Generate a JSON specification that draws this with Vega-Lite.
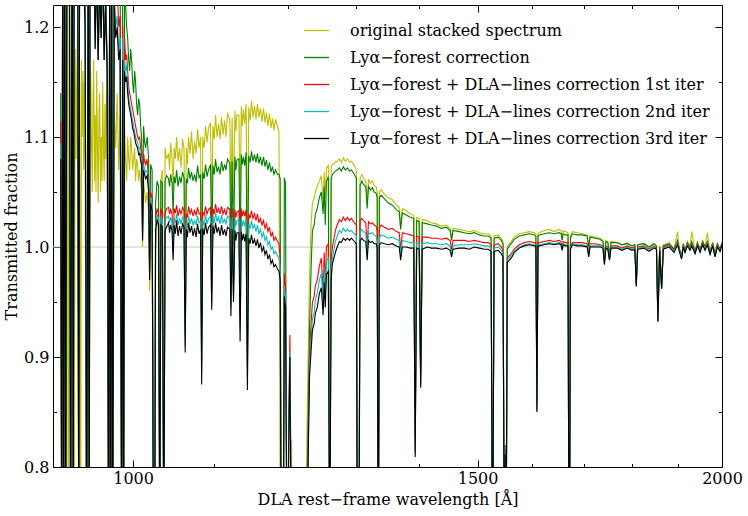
{
  "$schema": "https://vega.github.io/schema/vega-lite/v6.json",
  "width": 669,
  "height": 462,
  "autosize": {"type": "none"},
  "padding": {"left": 53, "top": 5, "right": 26, "bottom": 49},
  "data": {
    "values": [
      {"w":918.3,"y":1.05,"g":1.14,"r":1.114,"c":1.094,"k":1.08},
      {"w":919.4,"y":0.7,"g":0.7,"r":0.7,"c":0.7,"k":0.7},
      {"w":920.5,"y":1.28,"g":1.35,"r":1.35,"c":1.35,"k":1.35},
      {"w":921.5,"y":0.7,"g":0.7,"r":0.7,"c":0.7,"k":0.7},
      {"w":922.6,"y":1.2,"g":1.32,"r":1.32,"c":1.32,"k":1.32},
      {"w":923.7,"y":0.72,"g":0.72,"r":0.72,"c":0.72,"k":0.72},
      {"w":925.3,"y":1.3,"g":1.4,"r":1.4,"c":1.4,"k":1.4},
      {"w":926.4,"y":0.7,"g":1.35,"r":1.35,"c":1.35,"k":1.35},
      {"w":927.5,"y":1.25,"g":1.38,"r":1.38,"c":1.38,"k":1.38},
      {"w":929.1,"y":0.7,"g":0.7,"r":0.7,"c":0.7,"k":0.7},
      {"w":930.8,"y":1.3,"g":1.4,"r":1.4,"c":1.4,"k":1.4},
      {"w":931.9,"y":0.7,"g":0.7,"r":0.7,"c":0.7,"k":0.7},
      {"w":933.0,"y":0.72,"g":1.3,"r":1.3,"c":1.3,"k":1.3},
      {"w":934.1,"y":1.18,"g":1.35,"r":1.35,"c":1.35,"k":1.35},
      {"w":935.0,"y":1.08,"g":1.3,"r":1.3,"c":1.3,"k":1.3},
      {"w":935.8,"y":1.15,"g":1.28,"r":1.28,"c":1.28,"k":1.28},
      {"w":936.8,"y":1.2,"g":1.3,"r":1.3,"c":1.3,"k":1.3},
      {"w":938.0,"y":0.7,"g":0.7,"r":0.7,"c":0.7,"k":0.7},
      {"w":939.0,"y":1.15,"g":1.32,"r":1.32,"c":1.32,"k":1.32},
      {"w":940.1,"y":0.72,"g":1.3,"r":1.3,"c":1.3,"k":1.3},
      {"w":941.0,"y":1.17,"g":1.27,"r":1.27,"c":1.27,"k":1.27},
      {"w":941.8,"y":1.1,"g":1.25,"r":1.25,"c":1.25,"k":1.25},
      {"w":942.7,"y":1.16,"g":1.29,"r":1.28,"c":1.28,"k":1.28},
      {"w":943.5,"y":1.07,"g":1.28,"r":1.27,"c":1.26,"k":1.25},
      {"w":944.3,"y":1.15,"g":1.24,"r":1.23,"c":1.22,"k":1.22},
      {"w":945.1,"y":1.06,"g":1.22,"r":1.21,"c":1.2,"k":1.2},
      {"w":946.8,"y":0.7,"g":0.7,"r":0.7,"c":0.7,"k":0.7},
      {"w":948.5,"y":1.16,"g":1.3,"r":1.3,"c":1.3,"k":1.3},
      {"w":949.6,"y":0.7,"g":0.7,"r":0.7,"c":0.7,"k":0.7},
      {"w":950.5,"y":1.09,"g":1.25,"r":1.25,"c":1.25,"k":1.25},
      {"w":951.3,"y":1.16,"g":1.28,"r":1.28,"c":1.28,"k":1.28},
      {"w":952.1,"y":1.1,"g":1.26,"r":1.25,"c":1.25,"k":1.25},
      {"w":953.0,"y":1.05,"g":1.23,"r":1.22,"c":1.22,"k":1.22},
      {"w":953.8,"y":1.13,"g":1.27,"r":1.27,"c":1.27,"k":1.27},
      {"w":954.6,"y":1.17,"g":1.3,"r":1.3,"c":1.3,"k":1.3},
      {"w":955.5,"y":1.06,"g":1.24,"r":1.23,"c":1.23,"k":1.23},
      {"w":956.3,"y":1.12,"g":1.2,"r":1.19,"c":1.18,"k":1.18},
      {"w":957.2,"y":1.05,"g":1.23,"r":1.22,"c":1.22,"k":1.22},
      {"w":958.0,"y":1.16,"g":1.27,"r":1.26,"c":1.26,"k":1.26},
      {"w":958.9,"y":1.09,"g":1.22,"r":1.21,"c":1.21,"k":1.21},
      {"w":959.7,"y":1.04,"g":1.18,"r":1.17,"c":1.17,"k":1.17},
      {"w":960.6,"y":1.12,"g":1.22,"r":1.21,"c":1.21,"k":1.21},
      {"w":961.4,"y":1.14,"g":1.25,"r":1.24,"c":1.24,"k":1.24},
      {"w":962.3,"y":1.05,"g":1.22,"r":1.21,"c":1.21,"k":1.21},
      {"w":963.1,"y":1.1,"g":1.2,"r":1.19,"c":1.19,"k":1.19},
      {"w":964.0,"y":1.06,"g":1.24,"r":1.23,"c":1.23,"k":1.23},
      {"w":964.8,"y":1.15,"g":1.29,"r":1.28,"c":1.28,"k":1.28},
      {"w":965.7,"y":1.09,"g":1.22,"r":1.21,"c":1.21,"k":1.21},
      {"w":966.5,"y":1.06,"g":1.18,"r":1.17,"c":1.17,"k":1.17},
      {"w":967.4,"y":1.13,"g":1.21,"r":1.2,"c":1.2,"k":1.2},
      {"w":968.2,"y":1.08,"g":1.23,"r":1.22,"c":1.22,"k":1.22},
      {"w":969.1,"y":1.14,"g":1.2,"r":1.19,"c":1.19,"k":1.19},
      {"w":969.9,"y":1.1,"g":1.17,"r":1.16,"c":1.16,"k":1.16},
      {"w":971.6,"y":0.7,"g":0.7,"r":0.7,"c":0.7,"k":0.7},
      {"w":972.8,"y":1.05,"g":1.3,"r":1.3,"c":1.3,"k":1.3},
      {"w":973.9,"y":0.7,"g":0.7,"r":0.7,"c":0.7,"k":0.7},
      {"w":975.1,"y":1.1,"g":1.28,"r":1.28,"c":1.28,"k":1.28},
      {"w":976.2,"y":0.7,"g":0.7,"r":0.7,"c":0.7,"k":0.7},
      {"w":978.0,"y":1.12,"g":1.3,"r":1.26,"c":1.24,"k":1.22},
      {"w":979.7,"y":1.09,"g":1.26,"r":1.22,"c":1.2,"k":1.19},
      {"w":981.4,"y":1.14,"g":1.3,"r":1.24,"c":1.21,"k":1.2},
      {"w":983.1,"y":1.07,"g":1.23,"r":1.2,"c":1.18,"k":1.17},
      {"w":984.8,"y":1.12,"g":1.28,"r":1.21,"c":1.19,"k":1.18},
      {"w":986.6,"y":0.72,"g":0.72,"r":0.72,"c":0.72,"k":0.72},
      {"w":987.8,"y":1.1,"g":1.25,"r":1.2,"c":1.19,"k":1.17},
      {"w":988.9,"y":0.75,"g":0.75,"r":0.75,"c":0.75,"k":0.75},
      {"w":990.0,"y":1.11,"g":1.24,"r":1.19,"c":1.17,"k":1.16},
      {"w":991.2,"y":1.08,"g":1.22,"r":1.17,"c":1.16,"k":1.15},
      {"w":992.4,"y":1.06,"g":1.2,"r":1.175,"c":1.165,"k":1.155},
      {"w":993.6,"y":1.1,"g":1.19,"r":1.16,"c":1.15,"k":1.14},
      {"w":994.8,"y":1.08,"g":1.17,"r":1.145,"c":1.135,"k":1.13},
      {"w":995.9,"y":1.07,"g":1.16,"r":1.14,"c":1.13,"k":1.125},
      {"w":997.1,"y":1.1,"g":1.18,"r":1.135,"c":1.125,"k":1.12},
      {"w":998.2,"y":1.09,"g":1.17,"r":1.13,"c":1.12,"k":1.115},
      {"w":999.4,"y":1.07,"g":1.15,"r":1.125,"c":1.115,"k":1.108},
      {"w":1000.6,"y":1.08,"g":1.14,"r":1.12,"c":1.11,"k":1.105},
      {"w":1001.8,"y":1.09,"g":1.16,"r":1.115,"c":1.105,"k":1.1},
      {"w":1002.9,"y":1.06,"g":1.15,"r":1.11,"c":1.1,"k":1.095},
      {"w":1004.1,"y":1.08,"g":1.13,"r":1.105,"c":1.097,"k":1.092},
      {"w":1005.3,"y":1.075,"g":1.12,"r":1.1,"c":1.095,"k":1.09},
      {"w":1006.5,"y":1.06,"g":1.135,"r":1.098,"c":1.09,"k":1.084},
      {"w":1007.7,"y":1.07,"g":1.13,"r":1.1,"c":1.09,"k":1.085},
      {"w":1008.9,"y":1.06,"g":1.11,"r":1.09,"c":1.083,"k":1.078},
      {"w":1010.0,"y":1.05,"g":1.1,"r":1.085,"c":1.08,"k":1.075},
      {"w":1011.2,"y":1.0,"g":1.04,"r":1.02,"c":1.01,"k":1.006},
      {"w":1012.4,"y":1.06,"g":1.11,"r":1.085,"c":1.075,"k":1.07},
      {"w":1013.6,"y":1.05,"g":1.095,"r":1.078,"c":1.071,"k":1.066},
      {"w":1014.8,"y":1.04,"g":1.09,"r":1.075,"c":1.068,"k":1.062},
      {"w":1016.6,"y":1.05,"g":1.1,"r":1.08,"c":1.07,"k":1.065},
      {"w":1018.4,"y":1.03,"g":1.08,"r":1.06,"c":1.055,"k":1.05},
      {"w":1019.6,"y":0.96,"g":0.99,"r":0.98,"c":0.975,"k":0.97},
      {"w":1020.8,"y":1.02,"g":1.075,"r":1.05,"c":1.045,"k":1.04},
      {"w":1022.6,"y":1.03,"g":1.07,"r":1.045,"c":1.038,"k":1.033},
      {"w":1024.4,"y":0.7,"g":0.7,"r":0.7,"c":0.7,"k":0.7},
      {"w":1025.7,"y":0.7,"g":0.7,"r":0.7,"c":0.7,"k":0.7},
      {"w":1026.8,"y":1.0,"g":1.04,"r":1.025,"c":1.02,"k":1.015},
      {"w":1028.6,"y":1.02,"g":1.06,"r":1.035,"c":1.03,"k":1.025},
      {"w":1030.4,"y":1.03,"g":1.055,"r":1.03,"c":1.025,"k":1.02},
      {"w":1031.9,"y":0.72,"g":0.72,"r":0.72,"c":0.72,"k":0.72},
      {"w":1033.2,"y":1.06,"g":1.06,"r":1.035,"c":1.028,"k":1.02},
      {"w":1035.0,"y":1.07,"g":1.058,"r":1.03,"c":1.025,"k":1.018},
      {"w":1036.8,"y":0.72,"g":0.72,"r":0.72,"c":0.72,"k":0.72},
      {"w":1038.3,"y":1.09,"g":1.06,"r":1.03,"c":1.024,"k":1.015},
      {"w":1040.1,"y":1.08,"g":1.065,"r":1.035,"c":1.027,"k":1.018},
      {"w":1042.6,"y":1.085,"g":1.062,"r":1.036,"c":1.028,"k":1.022},
      {"w":1043.8,"y":1.07,"g":1.055,"r":1.03,"c":1.022,"k":1.013},
      {"w":1045.1,"y":1.095,"g":1.066,"r":1.034,"c":1.027,"k":1.02},
      {"w":1046.9,"y":1.08,"g":1.058,"r":1.03,"c":1.022,"k":1.015},
      {"w":1048.2,"y":1.05,"g":1.03,"r":1.0,"c":0.993,"k":0.988},
      {"w":1049.5,"y":1.09,"g":1.064,"r":1.035,"c":1.026,"k":1.02},
      {"w":1051.0,"y":1.08,"g":1.058,"r":1.031,"c":1.022,"k":1.012},
      {"w":1052.5,"y":1.1,"g":1.07,"r":1.038,"c":1.03,"k":1.024},
      {"w":1054.3,"y":1.078,"g":1.055,"r":1.028,"c":1.02,"k":1.01},
      {"w":1056.2,"y":1.09,"g":1.064,"r":1.034,"c":1.026,"k":1.019},
      {"w":1058.0,"y":1.072,"g":1.058,"r":1.03,"c":1.021,"k":1.012},
      {"w":1059.9,"y":1.098,"g":1.068,"r":1.036,"c":1.027,"k":1.021},
      {"w":1061.7,"y":1.09,"g":1.063,"r":1.033,"c":1.025,"k":1.018},
      {"w":1063.2,"y":0.98,"g":0.95,"r":0.92,"c":0.91,"k":0.904},
      {"w":1064.6,"y":1.09,"g":1.062,"r":1.03,"c":1.022,"k":1.016},
      {"w":1066.0,"y":1.075,"g":1.058,"r":1.027,"c":1.019,"k":1.009},
      {"w":1067.4,"y":1.1,"g":1.072,"r":1.037,"c":1.028,"k":1.022},
      {"w":1069.3,"y":1.085,"g":1.062,"r":1.03,"c":1.021,"k":1.013},
      {"w":1071.2,"y":1.105,"g":1.068,"r":1.034,"c":1.026,"k":1.019},
      {"w":1073.1,"y":1.08,"g":1.06,"r":1.028,"c":1.02,"k":1.01},
      {"w":1075.0,"y":1.096,"g":1.066,"r":1.033,"c":1.024,"k":1.017},
      {"w":1076.9,"y":1.085,"g":1.059,"r":1.029,"c":1.02,"k":1.009},
      {"w":1078.8,"y":1.107,"g":1.074,"r":1.036,"c":1.028,"k":1.021},
      {"w":1080.7,"y":1.09,"g":1.063,"r":1.03,"c":1.022,"k":1.012},
      {"w":1082.6,"y":1.1,"g":1.066,"r":1.031,"c":1.023,"k":1.016},
      {"w":1084.0,"y":0.96,"g":0.93,"r":0.895,"c":0.885,"k":0.875},
      {"w":1085.4,"y":1.1,"g":1.068,"r":1.032,"c":1.024,"k":1.017},
      {"w":1087.2,"y":1.09,"g":1.062,"r":1.029,"c":1.02,"k":1.011},
      {"w":1089.0,"y":1.11,"g":1.075,"r":1.037,"c":1.029,"k":1.022},
      {"w":1090.9,"y":1.095,"g":1.064,"r":1.03,"c":1.021,"k":1.012},
      {"w":1092.8,"y":1.108,"g":1.07,"r":1.034,"c":1.026,"k":1.018},
      {"w":1095.4,"y":1.113,"g":1.075,"r":1.036,"c":1.028,"k":1.02},
      {"w":1096.9,"y":1.03,"g":1.0,"r":0.96,"c":0.95,"k":0.943},
      {"w":1098.6,"y":1.11,"g":1.074,"r":1.035,"c":1.027,"k":1.019},
      {"w":1100.2,"y":1.098,"g":1.066,"r":1.03,"c":1.022,"k":1.012},
      {"w":1101.9,"y":1.12,"g":1.08,"r":1.039,"c":1.031,"k":1.022},
      {"w":1103.8,"y":1.1,"g":1.068,"r":1.031,"c":1.023,"k":1.013},
      {"w":1105.8,"y":1.112,"g":1.073,"r":1.035,"c":1.027,"k":1.018},
      {"w":1107.7,"y":1.098,"g":1.066,"r":1.03,"c":1.021,"k":1.01},
      {"w":1109.7,"y":1.118,"g":1.078,"r":1.037,"c":1.029,"k":1.02},
      {"w":1111.6,"y":1.102,"g":1.069,"r":1.03,"c":1.022,"k":1.011},
      {"w":1113.6,"y":1.115,"g":1.075,"r":1.034,"c":1.025,"k":1.016},
      {"w":1115.5,"y":1.1,"g":1.07,"r":1.029,"c":1.021,"k":1.01},
      {"w":1117.5,"y":1.122,"g":1.08,"r":1.036,"c":1.028,"k":1.018},
      {"w":1120.6,"y":1.115,"g":1.076,"r":1.034,"c":1.026,"k":1.016},
      {"w":1122.0,"y":1.03,"g":0.99,"r":0.955,"c":0.945,"k":0.937},
      {"w":1123.6,"y":1.118,"g":1.078,"r":1.035,"c":1.027,"k":1.016},
      {"w":1125.4,"y":1.04,"g":1.0,"r":0.965,"c":0.957,"k":0.95},
      {"w":1127.3,"y":1.124,"g":1.082,"r":1.034,"c":1.026,"k":1.015},
      {"w":1128.6,"y":1.105,"g":1.07,"r":1.027,"c":1.019,"k":1.006},
      {"w":1129.9,"y":1.12,"g":1.079,"r":1.032,"c":1.024,"k":1.013},
      {"w":1132.6,"y":1.12,"g":1.08,"r":1.033,"c":1.025,"k":1.013},
      {"w":1134.2,"y":1.03,"g":0.995,"r":0.935,"c":0.925,"k":0.914},
      {"w":1135.8,"y":1.128,"g":1.084,"r":1.035,"c":1.026,"k":1.014},
      {"w":1137.2,"y":1.11,"g":1.075,"r":1.028,"c":1.019,"k":1.006},
      {"w":1138.7,"y":1.125,"g":1.082,"r":1.033,"c":1.024,"k":1.012},
      {"w":1140.4,"y":1.112,"g":1.074,"r":1.028,"c":1.019,"k":1.005},
      {"w":1142.2,"y":1.13,"g":1.086,"r":1.034,"c":1.025,"k":1.012},
      {"w":1144.0,"y":1.0,"g":0.96,"r":0.89,"c":0.88,"k":0.87},
      {"w":1145.8,"y":1.127,"g":1.083,"r":1.03,"c":1.021,"k":1.008},
      {"w":1147.6,"y":1.115,"g":1.077,"r":1.026,"c":1.017,"k":1.003},
      {"w":1149.5,"y":1.133,"g":1.087,"r":1.033,"c":1.024,"k":1.011},
      {"w":1151.5,"y":1.118,"g":1.078,"r":1.026,"c":1.017,"k":1.003},
      {"w":1153.6,"y":1.128,"g":1.084,"r":1.03,"c":1.02,"k":1.007},
      {"w":1155.6,"y":1.116,"g":1.077,"r":1.024,"c":1.014,"k":1.001},
      {"w":1157.6,"y":1.13,"g":1.085,"r":1.03,"c":1.02,"k":1.007},
      {"w":1159.6,"y":1.118,"g":1.076,"r":1.022,"c":1.012,"k":0.999},
      {"w":1161.7,"y":1.126,"g":1.082,"r":1.026,"c":1.016,"k":1.004},
      {"w":1163.8,"y":1.114,"g":1.074,"r":1.02,"c":1.009,"k":0.996},
      {"w":1165.9,"y":1.126,"g":1.082,"r":1.024,"c":1.013,"k":1.0},
      {"w":1167.9,"y":1.113,"g":1.073,"r":1.017,"c":1.006,"k":0.993},
      {"w":1169.9,"y":1.122,"g":1.079,"r":1.021,"c":1.009,"k":0.997},
      {"w":1172.0,"y":1.11,"g":1.07,"r":1.014,"c":1.002,"k":0.989},
      {"w":1174.1,"y":1.121,"g":1.077,"r":1.018,"c":1.005,"k":0.993},
      {"w":1176.2,"y":1.108,"g":1.068,"r":1.01,"c":0.998,"k":0.985},
      {"w":1178.2,"y":1.117,"g":1.073,"r":1.013,"c":1.0,"k":0.988},
      {"w":1180.3,"y":1.106,"g":1.066,"r":1.006,"c":0.994,"k":0.982},
      {"w":1182.4,"y":1.116,"g":1.07,"r":1.009,"c":0.996,"k":0.984},
      {"w":1185.2,"y":1.11,"g":1.066,"r":1.005,"c":0.992,"k":0.98},
      {"w":1187.3,"y":1.105,"g":1.066,"r":1.003,"c":0.99,"k":0.978},
      {"w":1189.0,"y":0.75,"g":1.062,"r":0.99,"c":0.98,"k":0.97},
      {"w":1190.4,"y":0.65,"g":0.7,"r":0.7,"c":0.7,"k":0.7},
      {"w":1192.0,"y":0.65,"g":0.74,"r":0.75,"c":0.74,"k":0.73},
      {"w":1193.3,"y":0.65,"g":0.7,"r":0.7,"c":0.7,"k":0.7},
      {"w":1194.8,"y":0.66,"g":1.063,"r":0.976,"c":0.965,"k":0.955},
      {"w":1196.5,"y":0.68,"g":1.058,"r":0.962,"c":0.952,"k":0.945},
      {"w":1198.0,"y":0.66,"g":0.75,"r":0.8,"c":0.79,"k":0.78},
      {"w":1199.5,"y":0.65,"g":0.7,"r":0.7,"c":0.7,"k":0.7},
      {"w":1201.2,"y":0.7,"g":0.72,"r":0.85,"c":0.84,"k":0.83},
      {"w":1202.6,"y":0.74,"g":0.72,"r":0.92,"c":0.905,"k":0.9},
      {"w":1203.8,"y":0.8,"g":0.71,"r":0.82,"c":0.8,"k":0.78},
      {"w":1205.0,"y":0.825,"g":0.7,"r":0.72,"c":0.71,"k":0.7},
      {"w":1206.5,"y":0.65,"g":0.65,"r":0.65,"c":0.65,"k":0.65},
      {"w":1215.7,"y":0.5,"g":0.5,"r":0.5,"c":0.5,"k":0.5},
      {"w":1222.0,"y":0.6,"g":0.6,"r":0.6,"c":0.6,"k":0.6},
      {"w":1224.9,"y":0.72,"g":0.7,"r":0.7,"c":0.7,"k":0.7},
      {"w":1227.7,"y":0.86,"g":0.8,"r":0.78,"c":0.77,"k":0.76},
      {"w":1230.6,"y":0.97,"g":0.92,"r":0.9,"c":0.89,"k":0.88},
      {"w":1233.0,"y":1.02,"g":0.98,"r":0.93,"c":0.915,"k":0.905},
      {"w":1235.0,"y":1.04,"g":1.015,"r":0.95,"c":0.935,"k":0.925},
      {"w":1237.5,"y":1.045,"g":1.02,"r":0.955,"c":0.94,"k":0.93},
      {"w":1239.3,"y":1.05,"g":1.03,"r":0.965,"c":0.952,"k":0.94},
      {"w":1242.0,"y":1.055,"g":1.035,"r":0.97,"c":0.958,"k":0.945},
      {"w":1245.2,"y":1.06,"g":1.045,"r":0.983,"c":0.97,"k":0.958},
      {"w":1248.0,"y":1.065,"g":1.05,"r":0.99,"c":0.976,"k":0.963},
      {"w":1250.6,"y":1.04,"g":1.03,"r":0.96,"c":0.95,"k":0.938},
      {"w":1252.2,"y":1.068,"g":1.055,"r":0.995,"c":0.982,"k":0.968},
      {"w":1253.8,"y":1.045,"g":1.02,"r":0.965,"c":0.955,"k":0.945},
      {"w":1255.5,"y":1.072,"g":1.06,"r":1.0,"c":0.988,"k":0.975},
      {"w":1258.3,"y":1.074,"g":1.064,"r":1.003,"c":0.99,"k":0.978},
      {"w":1260.4,"y":0.7,"g":0.7,"r":0.7,"c":0.7,"k":0.7},
      {"w":1262.5,"y":1.073,"g":1.062,"r":0.99,"c":0.98,"k":0.97},
      {"w":1264.4,"y":1.075,"g":1.066,"r":1.0,"c":0.99,"k":0.985},
      {"w":1268.8,"y":1.077,"g":1.069,"r":1.015,"c":1.005,"k":0.995},
      {"w":1271.5,"y":1.078,"g":1.07,"r":1.02,"c":1.01,"k":1.0},
      {"w":1274.8,"y":1.08,"g":1.072,"r":1.025,"c":1.015,"k":1.005},
      {"w":1277.8,"y":1.077,"g":1.069,"r":1.023,"c":1.013,"k":1.004},
      {"w":1280.8,"y":1.081,"g":1.073,"r":1.027,"c":1.017,"k":1.008},
      {"w":1283.8,"y":1.078,"g":1.07,"r":1.024,"c":1.014,"k":1.006},
      {"w":1286.9,"y":1.08,"g":1.072,"r":1.027,"c":1.016,"k":1.008},
      {"w":1290.0,"y":1.077,"g":1.069,"r":1.024,"c":1.014,"k":1.006},
      {"w":1292.9,"y":1.078,"g":1.07,"r":1.026,"c":1.015,"k":1.008},
      {"w":1297.5,"y":1.074,"g":1.066,"r":1.022,"c":1.012,"k":1.005},
      {"w":1300.5,"y":1.07,"g":1.062,"r":1.02,"c":1.01,"k":1.003},
      {"w":1302.2,"y":0.68,"g":0.68,"r":0.68,"c":0.68,"k":0.68},
      {"w":1303.3,"y":0.7,"g":0.7,"r":0.74,"c":0.73,"k":0.72},
      {"w":1304.4,"y":0.68,"g":0.68,"r":0.68,"c":0.68,"k":0.68},
      {"w":1306.2,"y":1.062,"g":1.056,"r":1.024,"c":1.014,"k":1.006},
      {"w":1309.0,"y":1.066,"g":1.06,"r":1.026,"c":1.016,"k":1.008},
      {"w":1311.3,"y":1.063,"g":1.057,"r":1.024,"c":1.014,"k":1.006},
      {"w":1315.0,"y":1.06,"g":1.055,"r":1.022,"c":1.013,"k":1.005},
      {"w":1317.2,"y":1.04,"g":1.035,"r":1.0,"c":0.993,"k":0.988},
      {"w":1319.2,"y":1.061,"g":1.055,"r":1.023,"c":1.013,"k":1.006},
      {"w":1322.0,"y":1.058,"g":1.052,"r":1.021,"c":1.012,"k":1.004},
      {"w":1325.3,"y":1.06,"g":1.054,"r":1.022,"c":1.013,"k":1.005},
      {"w":1328.0,"y":1.056,"g":1.05,"r":1.02,"c":1.011,"k":1.003},
      {"w":1331.0,"y":1.055,"g":1.049,"r":1.019,"c":1.01,"k":1.003},
      {"w":1332.8,"y":1.05,"g":1.045,"r":1.015,"c":1.006,"k":1.0},
      {"w":1334.5,"y":0.68,"g":0.68,"r":0.68,"c":0.68,"k":0.68},
      {"w":1336.2,"y":1.05,"g":1.045,"r":1.017,"c":1.008,"k":1.002},
      {"w":1339.0,"y":1.052,"g":1.047,"r":1.02,"c":1.011,"k":1.004},
      {"w":1344.1,"y":1.048,"g":1.044,"r":1.018,"c":1.01,"k":1.003},
      {"w":1350.4,"y":1.045,"g":1.04,"r":1.016,"c":1.008,"k":1.002},
      {"w":1356.8,"y":1.043,"g":1.038,"r":1.017,"c":1.009,"k":1.003},
      {"w":1363.2,"y":1.038,"g":1.034,"r":1.014,"c":1.007,"k":1.001},
      {"w":1367.8,"y":1.036,"g":1.032,"r":1.013,"c":1.006,"k":1.0},
      {"w":1370.1,"y":1.02,"g":1.016,"r":0.998,"c":0.992,"k":0.988},
      {"w":1372.9,"y":1.035,"g":1.031,"r":1.013,"c":1.006,"k":1.0},
      {"w":1379.3,"y":1.033,"g":1.029,"r":1.012,"c":1.005,"k":1.0},
      {"w":1385.8,"y":1.03,"g":1.027,"r":1.011,"c":1.004,"k":0.999},
      {"w":1391.4,"y":1.029,"g":1.026,"r":1.01,"c":1.004,"k":0.999},
      {"w":1393.8,"y":0.83,"g":0.83,"r":0.815,"c":0.812,"k":0.809},
      {"w":1396.2,"y":1.027,"g":1.024,"r":1.01,"c":1.004,"k":0.999},
      {"w":1400.3,"y":1.026,"g":1.023,"r":1.009,"c":1.003,"k":0.998},
      {"w":1402.8,"y":0.89,"g":0.887,"r":0.876,"c":0.874,"k":0.872},
      {"w":1405.3,"y":1.025,"g":1.022,"r":1.009,"c":1.003,"k":0.998},
      {"w":1413.8,"y":1.024,"g":1.021,"r":1.009,"c":1.004,"k":1.0},
      {"w":1420.5,"y":1.022,"g":1.02,"r":1.008,"c":1.003,"k":0.999},
      {"w":1428.9,"y":1.021,"g":1.019,"r":1.008,"c":1.003,"k":0.999},
      {"w":1437.3,"y":1.019,"g":1.017,"r":1.007,"c":1.002,"k":0.998},
      {"w":1445.8,"y":1.02,"g":1.018,"r":1.008,"c":1.003,"k":0.999},
      {"w":1452.3,"y":1.017,"g":1.015,"r":1.006,"c":1.001,"k":0.997},
      {"w":1454.8,"y":1.008,"g":1.006,"r":0.997,"c":0.993,"k":0.991},
      {"w":1457.3,"y":1.017,"g":1.015,"r":1.006,"c":1.001,"k":0.998},
      {"w":1468.0,"y":1.016,"g":1.014,"r":1.006,"c":1.002,"k":0.999},
      {"w":1476.7,"y":1.015,"g":1.013,"r":1.006,"c":1.002,"k":0.999},
      {"w":1485.4,"y":1.014,"g":1.012,"r":1.005,"c":1.002,"k":0.998},
      {"w":1494.2,"y":1.015,"g":1.013,"r":1.006,"c":1.003,"k":1.0},
      {"w":1503.0,"y":1.013,"g":1.011,"r":1.005,"c":1.002,"k":0.999},
      {"w":1511.9,"y":1.012,"g":1.01,"r":1.004,"c":1.001,"k":0.998},
      {"w":1519.0,"y":1.012,"g":1.01,"r":1.004,"c":1.001,"k":0.998},
      {"w":1524.0,"y":1.01,"g":1.008,"r":1.002,"c":0.999,"k":0.996},
      {"w":1526.7,"y":0.68,"g":0.68,"r":0.68,"c":0.68,"k":0.68},
      {"w":1529.4,"y":1.01,"g":1.008,"r":1.002,"c":0.999,"k":0.996},
      {"w":1536.9,"y":1.011,"g":1.009,"r":1.003,"c":1.0,"k":0.997},
      {"w":1542.3,"y":1.008,"g":1.006,"r":1.0,"c":0.997,"k":0.994},
      {"w":1545.5,"y":1.005,"g":1.003,"r":0.997,"c":0.994,"k":0.991},
      {"w":1548.2,"y":0.68,"g":0.68,"r":0.68,"c":0.68,"k":0.68},
      {"w":1549.5,"y":0.82,"g":0.82,"r":0.815,"c":0.813,"k":0.812},
      {"w":1550.8,"y":0.65,"g":0.65,"r":0.65,"c":0.65,"k":0.65},
      {"w":1553.3,"y":1.0,"g":0.998,"r":0.99,"c":0.988,"k":0.986},
      {"w":1558.8,"y":1.004,"g":1.002,"r":0.993,"c":0.991,"k":0.989},
      {"w":1562.0,"y":1.006,"g":1.004,"r":0.995,"c":0.993,"k":0.991},
      {"w":1566.1,"y":1.009,"g":1.007,"r":0.998,"c":0.996,"k":0.995},
      {"w":1575.4,"y":1.012,"g":1.01,"r":1.002,"c":1.0,"k":0.999},
      {"w":1584.6,"y":1.013,"g":1.011,"r":1.004,"c":1.002,"k":1.001},
      {"w":1594.0,"y":1.014,"g":1.012,"r":1.005,"c":1.003,"k":1.002},
      {"w":1603.4,"y":1.013,"g":1.011,"r":1.004,"c":1.002,"k":1.001},
      {"w":1606.5,"y":1.012,"g":1.01,"r":1.004,"c":1.002,"k":1.001},
      {"w":1608.5,"y":0.86,"g":0.858,"r":0.853,"c":0.851,"k":0.85},
      {"w":1610.5,"y":1.012,"g":1.01,"r":1.004,"c":1.002,"k":1.001},
      {"w":1612.9,"y":1.013,"g":1.011,"r":1.004,"c":1.002,"k":1.001},
      {"w":1622.4,"y":1.015,"g":1.012,"r":1.005,"c":1.003,"k":1.002},
      {"w":1632.0,"y":1.016,"g":1.013,"r":1.006,"c":1.004,"k":1.003},
      {"w":1641.6,"y":1.014,"g":1.012,"r":1.005,"c":1.003,"k":1.002},
      {"w":1651.3,"y":1.016,"g":1.013,"r":1.006,"c":1.004,"k":1.003},
      {"w":1654.8,"y":1.015,"g":1.012,"r":1.005,"c":1.003,"k":1.002},
      {"w":1656.9,"y":1.008,"g":1.006,"r":0.999,"c":0.998,"k":0.997},
      {"w":1659.0,"y":1.015,"g":1.012,"r":1.005,"c":1.003,"k":1.002},
      {"w":1663.0,"y":1.014,"g":1.011,"r":1.004,"c":1.002,"k":1.001},
      {"w":1668.5,"y":1.013,"g":1.011,"r":1.004,"c":1.002,"k":1.001},
      {"w":1670.8,"y":0.62,"g":0.62,"r":0.62,"c":0.62,"k":0.62},
      {"w":1673.2,"y":1.01,"g":1.008,"r":1.0,"c":0.999,"k":0.998},
      {"w":1676.8,"y":1.014,"g":1.012,"r":1.004,"c":1.003,"k":1.002},
      {"w":1686.7,"y":1.013,"g":1.011,"r":1.004,"c":1.002,"k":1.001},
      {"w":1696.6,"y":1.012,"g":1.011,"r":1.004,"c":1.002,"k":1.001},
      {"w":1706.5,"y":1.011,"g":1.01,"r":1.003,"c":1.001,"k":1.0},
      {"w":1709.6,"y":1.001,"g":1.0,"r":0.994,"c":0.992,"k":0.991},
      {"w":1712.3,"y":1.01,"g":1.009,"r":1.003,"c":1.001,"k":1.0},
      {"w":1722.4,"y":1.009,"g":1.008,"r":1.003,"c":1.001,"k":1.0},
      {"w":1732.5,"y":1.008,"g":1.007,"r":1.002,"c":1.001,"k":1.0},
      {"w":1738.5,"y":1.006,"g":1.005,"r":1.001,"c":1.0,"k":0.999},
      {"w":1741.5,"y":0.99,"g":0.989,"r":0.986,"c":0.985,"k":0.984},
      {"w":1744.5,"y":1.006,"g":1.005,"r":1.001,"c":1.0,"k":0.999},
      {"w":1748.5,"y":1.005,"g":1.004,"r":1.0,"c":0.999,"k":0.998},
      {"w":1751.9,"y":0.993,"g":0.992,"r":0.989,"c":0.989,"k":0.988},
      {"w":1755.0,"y":1.005,"g":1.004,"r":1.001,"c":1.0,"k":0.999},
      {"w":1767.6,"y":1.004,"g":1.004,"r":1.001,"c":1.0,"k":0.999},
      {"w":1778.0,"y":1.002,"g":1.002,"r":0.999,"c":0.998,"k":0.997},
      {"w":1788.5,"y":1.004,"g":1.003,"r":1.001,"c":1.0,"k":0.999},
      {"w":1799.1,"y":1.001,"g":1.001,"r":0.999,"c":0.998,"k":0.997},
      {"w":1805.0,"y":1.002,"g":1.002,"r":1.0,"c":0.999,"k":0.998},
      {"w":1808.0,"y":0.968,"g":0.967,"r":0.965,"c":0.965,"k":0.964},
      {"w":1811.0,"y":1.002,"g":1.002,"r":1.0,"c":0.999,"k":0.998},
      {"w":1824.6,"y":1.003,"g":1.003,"r":1.001,"c":1.0,"k":0.999},
      {"w":1835.4,"y":1.0,"g":1.0,"r":0.998,"c":0.997,"k":0.996},
      {"w":1846.2,"y":1.003,"g":1.003,"r":1.001,"c":1.0,"k":0.999},
      {"w":1851.5,"y":1.001,"g":1.001,"r":0.999,"c":0.998,"k":0.998},
      {"w":1854.7,"y":0.935,"g":0.934,"r":0.933,"c":0.932,"k":0.932},
      {"w":1858.5,"y":1.001,"g":1.0,"r":0.999,"c":0.998,"k":0.997},
      {"w":1862.8,"y":0.964,"g":0.963,"r":0.962,"c":0.962,"k":0.962},
      {"w":1866.5,"y":1.002,"g":1.001,"r":1.0,"c":0.999,"k":0.998},
      {"w":1879.1,"y":1.004,"g":1.003,"r":1.002,"c":1.001,"k":1.0},
      {"w":1890.2,"y":0.998,"g":0.998,"r":0.997,"c":0.996,"k":0.995},
      {"w":1898.0,"y":1.014,"g":1.006,"r":1.004,"c":1.003,"k":1.002},
      {"w":1901.4,"y":1.0,"g":1.0,"r":0.999,"c":0.998,"k":0.997},
      {"w":1907.0,"y":0.992,"g":0.991,"r":0.99,"c":0.99,"k":0.989},
      {"w":1911.0,"y":1.003,"g":1.003,"r":1.002,"c":1.001,"k":1.0},
      {"w":1914.9,"y":0.997,"g":0.997,"r":0.996,"c":0.995,"k":0.995},
      {"w":1920.0,"y":1.005,"g":1.004,"r":1.003,"c":1.002,"k":1.001},
      {"w":1926.2,"y":1.0,"g":1.0,"r":0.999,"c":0.998,"k":0.997},
      {"w":1930.0,"y":1.014,"g":1.005,"r":1.003,"c":1.002,"k":1.001},
      {"w":1937.6,"y":0.996,"g":0.996,"r":0.995,"c":0.994,"k":0.994},
      {"w":1943.0,"y":1.004,"g":1.004,"r":1.003,"c":1.002,"k":1.001},
      {"w":1949.0,"y":0.998,"g":0.998,"r":0.997,"c":0.996,"k":0.995},
      {"w":1955.0,"y":1.006,"g":1.005,"r":1.004,"c":1.003,"k":1.002},
      {"w":1960.5,"y":1.0,"g":1.0,"r":0.999,"c":0.998,"k":0.997},
      {"w":1966.0,"y":1.013,"g":1.005,"r":1.004,"c":1.003,"k":1.002},
      {"w":1972.1,"y":0.995,"g":0.995,"r":0.994,"c":0.993,"k":0.993},
      {"w":1978.0,"y":1.004,"g":1.004,"r":1.003,"c":1.002,"k":1.001},
      {"w":1983.7,"y":0.992,"g":0.993,"r":0.992,"c":0.991,"k":0.991},
      {"w":1989.0,"y":1.003,"g":1.003,"r":1.002,"c":1.001,"k":1.0},
      {"w":1995.4,"y":0.998,"g":0.998,"r":0.997,"c":0.996,"k":0.996},
      {"w":2000.0,"y":1.004,"g":1.004,"r":1.003,"c":1.002,"k":1.002}
    ]
  },
  "layer": [
    {
      "data": {"values": [{"level": 1}]},
      "mark": {"type": "rule", "color": "#c8c8c8", "strokeWidth": 1},
      "encoding": {
        "y": {"field": "level", "type": "quantitative", "scale": {"domain": [0.8, 1.22], "zero": false, "nice": false}, "axis": null}
      }
    },
    {
      "mark": {"type": "line", "clip": true, "strokeWidth": 1.1},
      "encoding": {
        "x": {
          "field": "w", "type": "quantitative",
          "scale": {"type": "log", "domain": [910, 2000], "nice": false},
          "axis": {
            "orient": "bottom",
            "values": [1000, 1500, 2000],
            "format": "d",
            "tickSize": -7,
            "labelPadding": 10,
            "title": "DLA rest−frame wavelength [Å]",
            "titlePadding": 5
          }
        },
        "y": {
          "field": "y", "type": "quantitative",
          "scale": {"domain": [0.8, 1.22], "zero": false, "nice": false},
          "axis": {
            "orient": "left",
            "values": [0.8, 0.9, 1.0, 1.1, 1.2],
            "format": ".1f",
            "tickSize": -7,
            "labelPadding": 11,
            "title": "Transmitted fraction",
            "titlePadding": 4
          }
        },
        "color": {
          "datum": "original stacked spectrum", "type": "nominal",
          "scale": {
            "domain": ["original stacked spectrum", "Lyα−forest correction", "Lyα−forest + DLA−lines correction 1st iter", "Lyα−forest + DLA−lines correction 2nd iter", "Lyα−forest + DLA−lines correction 3rd iter"],
            "range": ["#bfbf00", "#008000", "#ff0000", "#00bfbf", "#000000"]
          },
          "legend": {"orient": "top-right", "title": null}
        }
      }
    },
    {
      "mark": {"type": "line", "clip": true, "strokeWidth": 1.1},
      "encoding": {
        "x": {
          "field": "w", "type": "quantitative",
          "scale": {"type": "log", "domain": [910, 2000], "nice": false},
          "axis": {"orient": "top", "values": [1000, 1500, 2000], "labels": false, "tickSize": -7, "title": null}
        },
        "y": {
          "field": "g", "type": "quantitative",
          "scale": {"domain": [0.8, 1.22], "zero": false, "nice": false},
          "axis": {"orient": "right", "values": [0.8, 0.9, 1.0, 1.1, 1.2], "labels": false, "tickSize": -7, "title": null}
        },
        "color": {"datum": "Lyα−forest correction", "type": "nominal"}
      }
    },
    {
      "mark": {"type": "line", "clip": true, "strokeWidth": 1.1},
      "encoding": {
        "x": {
          "field": "w", "type": "quantitative",
          "scale": {"type": "log", "domain": [910, 2000], "nice": false},
          "axis": {"orient": "bottom", "values": [1100, 1200, 1300, 1400, 1600, 1700, 1800, 1900], "labels": false, "tickSize": -3.5, "title": null}
        },
        "y": {
          "field": "r", "type": "quantitative",
          "scale": {"domain": [0.8, 1.22], "zero": false, "nice": false},
          "axis": {"orient": "left", "values": [0.85, 0.95, 1.05, 1.15], "labels": false, "tickSize": -3.5, "title": null}
        },
        "color": {"datum": "Lyα−forest + DLA−lines correction 1st iter", "type": "nominal"}
      }
    },
    {
      "mark": {"type": "line", "clip": true, "strokeWidth": 1.1},
      "encoding": {
        "x": {
          "field": "w", "type": "quantitative",
          "scale": {"type": "log", "domain": [910, 2000], "nice": false},
          "axis": {"orient": "top", "values": [1100, 1200, 1300, 1400, 1600, 1700, 1800, 1900], "labels": false, "tickSize": -3.5, "title": null}
        },
        "y": {
          "field": "c", "type": "quantitative",
          "scale": {"domain": [0.8, 1.22], "zero": false, "nice": false},
          "axis": {"orient": "right", "values": [0.85, 0.95, 1.05, 1.15], "labels": false, "tickSize": -3.5, "title": null}
        },
        "color": {"datum": "Lyα−forest + DLA−lines correction 2nd iter", "type": "nominal"}
      }
    },
    {
      "mark": {"type": "line", "clip": true, "strokeWidth": 1.1},
      "encoding": {
        "x": {"field": "w", "type": "quantitative", "scale": {"type": "log", "domain": [910, 2000], "nice": false}, "axis": null},
        "y": {"field": "k", "type": "quantitative", "scale": {"domain": [0.8, 1.22], "zero": false, "nice": false}, "axis": null},
        "color": {"datum": "Lyα−forest + DLA−lines correction 3rd iter", "type": "nominal"}
      }
    }
  ],
  "resolve": {"axis": {"x": "independent", "y": "independent"}},
  "config": {
    "font": "DejaVu Serif",
    "view": {"stroke": "#000000", "strokeWidth": 1},
    "axis": {
      "domain": false,
      "grid": false,
      "ticks": true,
      "zindex": 1,
      "tickColor": "#000000",
      "tickWidth": 1,
      "labelFont": "DejaVu Serif",
      "labelFontSize": 16,
      "labelColor": "#000000",
      "labelOverlap": false,
      "labelFlush": false,
      "titleFont": "DejaVu Serif",
      "titleFontSize": 16,
      "titleFontWeight": "normal",
      "titleColor": "#000000"
    },
    "legend": {
      "orient": "top-right",
      "offset": 12,
      "padding": 0,
      "symbolType": "stroke",
      "symbolSize": 625,
      "symbolStrokeWidth": 1.3,
      "labelFont": "DejaVu Serif",
      "labelFontSize": 16,
      "labelColor": "#000000",
      "labelOffset": 20,
      "labelLimit": 0,
      "rowPadding": 5
    }
  }
}
